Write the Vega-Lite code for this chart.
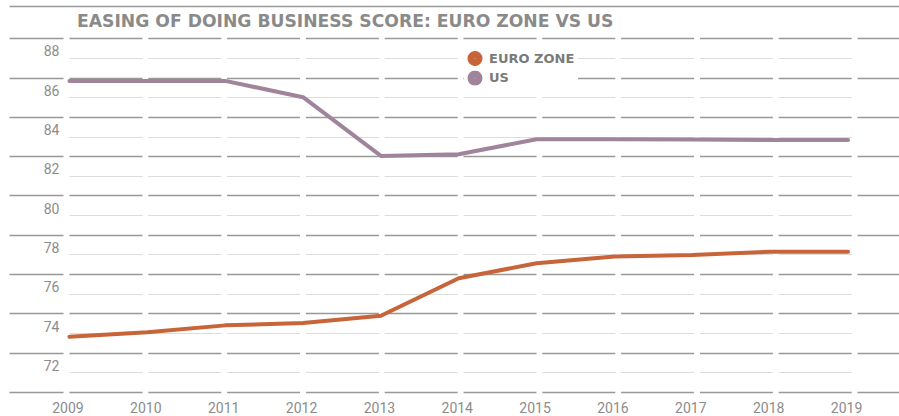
{
  "$schema": "https://vega.github.io/schema/vega-lite/v6.json",
  "width": 890,
  "height": 386,
  "autosize": {"type": "none"},
  "padding": {"left": 9, "top": 6, "right": 0, "bottom": 24},
  "background": "white",
  "title": {
    "text": "EASING OF DOING BUSINESS SCORE: EURO ZONE VS US",
    "anchor": "start",
    "frame": "group",
    "dx": 68,
    "dy": 38,
    "offset": 0,
    "baseline": "alphabetic",
    "font": "DejaVu Sans",
    "fontWeight": "bold",
    "fontSize": 17.2,
    "color": "#8a8a8a"
  },
  "config": {
    "view": {"stroke": null},
    "axis": {"domain": false, "ticks": false, "tickSize": 0}
  },
  "data": {
    "values": [
      {"year": 2009, "region": "EURO ZONE", "score": 73.81},
      {"year": 2010, "region": "EURO ZONE", "score": 74.04},
      {"year": 2011, "region": "EURO ZONE", "score": 74.39},
      {"year": 2012, "region": "EURO ZONE", "score": 74.51},
      {"year": 2013, "region": "EURO ZONE", "score": 74.88},
      {"year": 2014, "region": "EURO ZONE", "score": 76.79},
      {"year": 2015, "region": "EURO ZONE", "score": 77.55},
      {"year": 2016, "region": "EURO ZONE", "score": 77.89},
      {"year": 2017, "region": "EURO ZONE", "score": 77.97},
      {"year": 2018, "region": "EURO ZONE", "score": 78.14},
      {"year": 2019, "region": "EURO ZONE", "score": 78.14},
      {"year": 2009, "region": "US", "score": 86.83},
      {"year": 2010, "region": "US", "score": 86.83},
      {"year": 2011, "region": "US", "score": 86.83},
      {"year": 2012, "region": "US", "score": 86.0},
      {"year": 2013, "region": "US", "score": 83.01},
      {"year": 2014, "region": "US", "score": 83.1},
      {"year": 2015, "region": "US", "score": 83.86},
      {"year": 2016, "region": "US", "score": 83.86},
      {"year": 2017, "region": "US", "score": 83.85},
      {"year": 2018, "region": "US", "score": 83.82},
      {"year": 2019, "region": "US", "score": 83.82}
    ]
  },
  "mark": {"type": "line", "strokeWidth": 4, "strokeCap": "round", "strokeJoin": "round"},
  "encoding": {
    "x": {
      "field": "year",
      "type": "quantitative",
      "scale": {"domain": [2008.223, 2019.655], "nice": false, "zero": false},
      "axis": {
        "title": null,
        "values": [2009, 2010, 2011, 2012, 2013, 2014, 2015, 2016, 2017, 2018, 2019],
        "format": "d",
        "grid": false,
        "labelBaseline": "alphabetic",
        "labelPadding": 20,
        "labelOffset": -2,
        "labelFont": "Roboto",
        "labelFontSize": 14,
        "labelColor": "#8c8c8c"
      }
    },
    "y": {
      "field": "score",
      "type": "quantitative",
      "scale": {"domain": [71, 90.64], "nice": false, "zero": false},
      "axis": {
        "title": null,
        "values": [71, 72, 73, 74, 75, 76, 77, 78, 79, 80, 81, 82, 83, 84, 85, 86, 87, 88, 89, 90.62],
        "labelExpr": "datum.value % 2 == 0 ? datum.label : ''",
        "format": "d",
        "grid": true,
        "gridColor": {"condition": {"test": "datum.value % 2 != 0", "value": "#999999"}, "value": "#dcdcdc"},
        "gridWidth": {"condition": {"test": "datum.value % 2 != 0", "value": 1.4}, "value": 1.2},
        "gridDash": {
          "condition": [
            {"test": "datum.value > 90", "value": [2000, 1]},
            {"test": "datum.value % 2 == 1", "value": [54, 6, 73, 5.8, 73, 5.8, 73, 5.8, 73, 5.8, 73, 5.8, 73, 5.8, 73, 5.8, 73, 5.8, 73, 5.8, 73, 5.8, 73, 200]}
          ],
          "value": [0, 60, 73, 5.8, 73, 5.8, 73, 5.8, 73, 5.8, 73, 5.8, 73, 5.8, 73, 5.8, 73, 5.8, 73, 5.8, 73, 400]
        },
        "labelAlign": "right",
        "labelBaseline": "alphabetic",
        "labelPadding": -50,
        "labelOffset": -2,
        "labelFont": "Roboto",
        "labelFontSize": 14,
        "labelColor": "#8c8c8c"
      }
    },
    "color": {
      "field": "region",
      "type": "nominal",
      "scale": {"domain": ["EURO ZONE", "US"], "range": ["#c8643a", "#a0849c"]},
      "legend": {
        "title": null,
        "orient": "none",
        "legendX": 455,
        "legendY": 42,
        "padding": 3,
        "fillColor": "white",
        "symbolType": "circle",
        "symbolSize": 50,
        "symbolStrokeWidth": 8,
        "symbolOpacity": 1,
        "clipHeight": 15,
        "labelFont": "DejaVu Sans",
        "labelFontWeight": "bold",
        "labelFontSize": 13,
        "labelColor": "#7a7a7a",
        "labelOffset": 6,
        "rowPadding": 4.6
      }
    }
  }
}
